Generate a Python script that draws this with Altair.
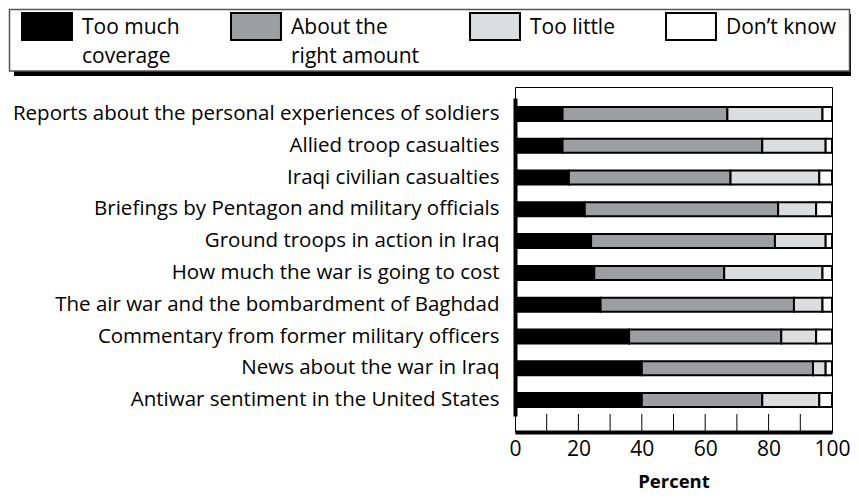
import altair as alt
import pandas as pd

topics = [
    "Reports about the personal experiences of soldiers",
    "Allied troop casualties",
    "Iraqi civilian casualties",
    "Briefings by Pentagon and military officials",
    "Ground troops in action in Iraq",
    "How much the war is going to cost",
    "The air war and the bombardment of Baghdad",
    "Commentary from former military officers",
    "News about the war in Iraq",
    "Antiwar sentiment in the United States",
]
categories = ["Too much coverage", "About the right amount", "Too little", "Don\u2019t know"]
too_much = [15, 15, 17, 22, 24, 25, 27, 36, 40, 40]
about_right = [52, 63, 51, 61, 58, 41, 61, 48, 54, 38]
too_little = [30, 20, 28, 12, 16, 31, 9, 11, 4, 18]
dont_know = [3, 2, 4, 5, 2, 3, 3, 5, 2, 4]
colors = ["#000000", "#9d9ea1", "#dcdddf", "#ffffff"]
x_ticks = [0, 20, 40, 60, 80, 100]
minor_ticks = [10, 20, 30, 40, 50, 60, 70, 80, 90]

rows = []
for i, t in enumerate(topics):
    for j, (c, vals) in enumerate(zip(categories, [too_much, about_right, too_little, dont_know])):
        rows.append({"topic": t, "category": c, "value": vals[i], "order": j})
df = pd.DataFrame(rows)

FONT = "Open Sans"
W, H = 317, 345
LEFT = 507  # padding left -> plot origin at page x = 515

xscale = alt.Scale(domain=[0, 100], nice=False)

label_expr = (
    "datum.label == 'Too much coverage' ? ['Too much','coverage'] : "
    "datum.label == 'About the right amount' ? ['About the','right amount'] : "
    "[datum.label, '']"
)

bars = alt.Chart(df).mark_bar(stroke="black", strokeWidth=2, height=14).encode(
    y=alt.Y(
        "topic:N",
        sort=topics,
        scale=alt.Scale(range=[11, 329]),
        axis=alt.Axis(
            title=None, ticks=False, domainWidth=4, domainColor="black",
            labelFontSize=20.5, labelFont=FONT, labelColor="black", labelPadding=16,
            labelLimit=600,
        ),
    ),
    x=alt.X(
        "value:Q",
        stack="zero",
        scale=xscale,
        axis=alt.Axis(
            title="Percent", values=x_ticks, ticks=False, grid=False, domainWidth=4,
            domainColor="black", labelFontSize=21, labelFont=FONT, labelColor="black",
            labelPadding=6, titleFont=FONT, titleFontSize=18.5, titleFontWeight="bold",
            titleColor="black", titlePadding=13, labelFlush=False,
        ),
    ),
    color=alt.Color(
        "category:N",
        sort=categories,
        scale=alt.Scale(domain=categories, range=colors),
        legend=alt.Legend(
            orient="none", legendX=-482.5, legendY=-84.7, direction="horizontal", columns=4,
            title=None, symbolType="M-1.85,-0.3L1.85,-0.3L1.85,1.7L-1.85,1.7Z", symbolSize=729,
            symbolStrokeColor="black", symbolStrokeWidth=2, symbolOpacity=1,
            labelFont=FONT, labelFontSize=21, labelColor="black", labelOffset=20.5,
            columnPadding=46, labelExpr=label_expr, labelBaseline="top", labelLimit=300,
        ),
    ),
    order=alt.Order("order:Q"),
)

tick_df = pd.DataFrame({"v": minor_ticks})
ticks = alt.Chart(tick_df).mark_rule(color="black", strokeWidth=1).encode(
    x=alt.X("v:Q", scale=xscale),
    y=alt.value(H - 18),
    y2=alt.value(H),
)

box_df = pd.DataFrame({"k": [0]})
shadow = alt.Chart(box_df).mark_rect(color="black").encode(
    x=alt.value(-501), x2=alt.value(336), y=alt.value(-73), y2=alt.value(-11)
)
box = alt.Chart(box_df).mark_rect(fill="white", stroke="#555", strokeWidth=1.5).encode(
    x=alt.value(-505.5), x2=alt.value(334.5), y=alt.value(-77.5), y2=alt.value(-16)
)

chart = alt.layer(shadow, box, bars, ticks).properties(
    width=W, height=H,
    autosize=alt.AutoSizeParams(type="none"),
    padding={"left": LEFT, "top": 79, "right": 19, "bottom": 61},
).configure(
    font=FONT, style={"guide-label": {"lineHeight": 29}}
).configure_view(stroke="black", strokeWidth=1)

chart.save("out.html", embed_options={"renderer": "svg", "actions": False})
